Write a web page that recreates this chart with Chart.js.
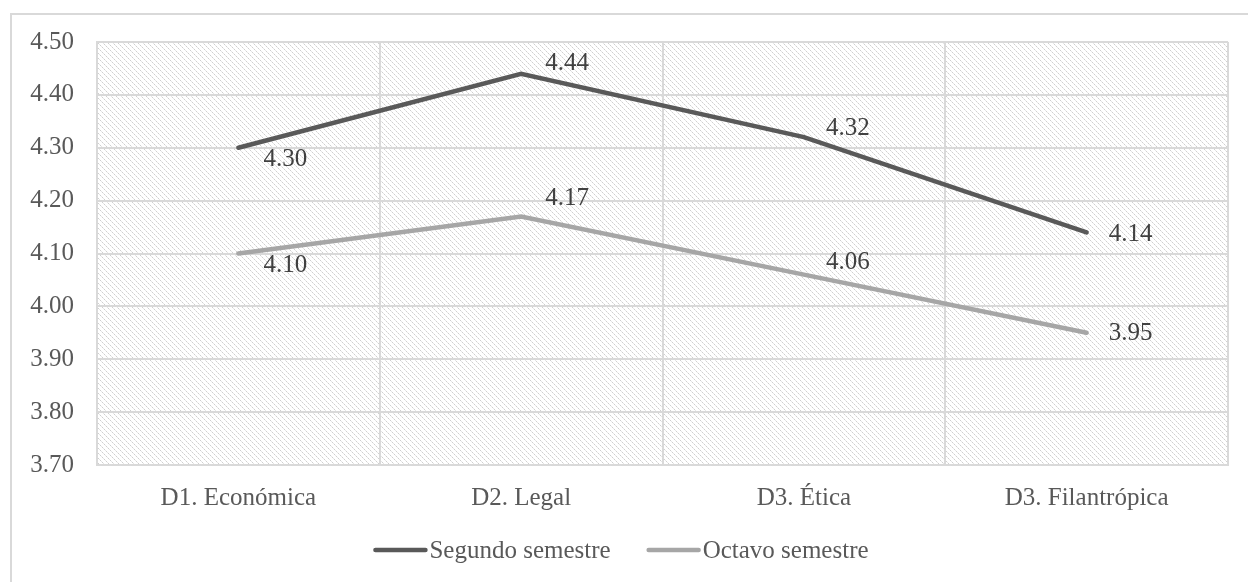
<!DOCTYPE html>
<html>
<head>
<meta charset="utf-8">
<script src="https://cdn.jsdelivr.net/npm/chart.js@4.4.0/dist/chart.umd.min.js"></script>
<style>
  html, body { margin: 0; padding: 0; background: #fff; }
  #wrap { position: relative; width: 1248px; height: 582px; overflow: hidden; }
  #frame { position: absolute; left: 10px; top: 13px; width: 1260px; height: 600px; border: 2px solid #d9d9d9; box-sizing: border-box; }
  #chart { position: absolute; left: 0; top: 0; }
</style>
</head>
<body>
<div id="wrap">
  <div id="frame"></div>
  <canvas id="chart" width="1248" height="582"></canvas>
</div>
<script>
// data
const categories = ['D1. Económica', 'D2. Legal', 'D3. Ética', 'D3. Filantrópica'];
const segundo = [4.30, 4.44, 4.32, 4.14];
const octavo = [4.10, 4.17, 4.06, 3.95];
const seriesNames = ['Segundo semestre', 'Octavo semestre'];

// label nudges (x, y) per series / point
const labelNudge = [
  [[25, 12], [24, -10], [22, -9], [22, 2]],
  [[25, 12], [24, -18], [22, -12], [22, 1]]
];

const FONT = 'Liberation Serif, Times New Roman, serif';

function makeHatch() {
  const c = document.createElement('canvas');
  c.width = 10; c.height = 10;
  const g = c.getContext('2d');
  g.fillStyle = '#ffffff';
  g.fillRect(0, 0, 10, 10);
  for (let x = 0; x < 10; x++) {
    for (let y = 0; y < 10; y++) {
      if (((x - y) % 5 + 5) % 5 === 0) {
        g.fillStyle = x % 2 === 0 ? '#cfcfcf' : '#e6e6e6';
        g.fillRect(x, y, 1, 1);
      }
    }
  }
  return c;
}

const hatchBg = {
  id: 'hatchBg',
  beforeDraw(chart) {
    const { ctx, chartArea: a } = chart;
    ctx.save();
    ctx.fillStyle = ctx.createPattern(makeHatch(), 'repeat');
    ctx.fillRect(a.left, a.top, a.right - a.left, a.bottom - a.top);
    ctx.restore();
  },
  afterDatasetsDraw(chart) {
    const { ctx } = chart;
    ctx.save();
    ctx.font = '25px ' + FONT;
    ctx.fillStyle = '#404040';
    ctx.textBaseline = 'middle';
    chart.data.datasets.forEach((ds, i) => {
      chart.getDatasetMeta(i).data.forEach((pt, j) => {
        const n = labelNudge[i][j];
        ctx.fillText(ds.data[j].toFixed(2), pt.x + n[0], pt.y + n[1]);
      });
    });
    ctx.restore();
  },
  afterDraw(chart) {
    // legend: line sample directly followed by the text
    const { ctx } = chart;
    ctx.save();
    ctx.font = '25px ' + FONT;
    const items = chart.data.datasets.map(ds => ({ text: ds.label, color: ds.borderColor, w: ctx.measureText(ds.label).width }));
    const sample = 50, gap = 4, between = 38;
    let total = 0;
    items.forEach((it, k) => { total += sample + gap + it.w + (k ? between : 0); });
    let x = 622 - total / 2;
    const y = 550;
    items.forEach(it => {
      ctx.strokeStyle = it.color;
      ctx.lineWidth = 4.5;
      ctx.lineCap = 'round';
      ctx.beginPath();
      ctx.moveTo(x, y);
      ctx.lineTo(x + sample, y);
      ctx.stroke();
      ctx.fillStyle = '#595959';
      ctx.textBaseline = 'middle';
      ctx.fillText(it.text, x + sample + gap, y + 1);
      x += sample + gap + it.w + between;
    });
    ctx.restore();
  }
};

new Chart(document.getElementById('chart').getContext('2d'), {
  type: 'line',
  data: {
    labels: categories,
    datasets: [
      { label: seriesNames[0], data: segundo, borderColor: '#595959', borderWidth: 4.5, pointRadius: 0, tension: 0, borderCapStyle: 'round' },
      { label: seriesNames[1], data: octavo, borderColor: '#a6a6a6', borderWidth: 4.5, pointRadius: 0, tension: 0, borderCapStyle: 'round' }
    ]
  },
  options: {
    responsive: false,
    animation: false,
    layout: { padding: { top: 42, right: 20, left: 0, bottom: 0 } },
    plugins: { legend: { display: false }, tooltip: { enabled: false } },
    scales: {
      x: {
        offset: true,
        grid: { offset: true, color: '#d9d9d9', lineWidth: 2, drawTicks: false },
        border: { color: '#d9d9d9', width: 2 },
        ticks: { color: '#595959', font: { family: FONT, size: 25 }, padding: 18, maxRotation: 0 },
        afterFit(s) { s.height = 117; }
      },
      y: {
        min: 3.7, max: 4.5,
        grid: { color: '#d9d9d9', lineWidth: 2, drawTicks: false },
        border: { color: '#d9d9d9', width: 2 },
        ticks: { stepSize: 0.1, color: '#595959', font: { family: FONT, size: 25 }, padding: 23,
          callback: v => v.toFixed(2) },
        afterFit(s) { s.width = 97; }
      }
    }
  },
  plugins: [hatchBg]
});
</script>
</body>
</html>
